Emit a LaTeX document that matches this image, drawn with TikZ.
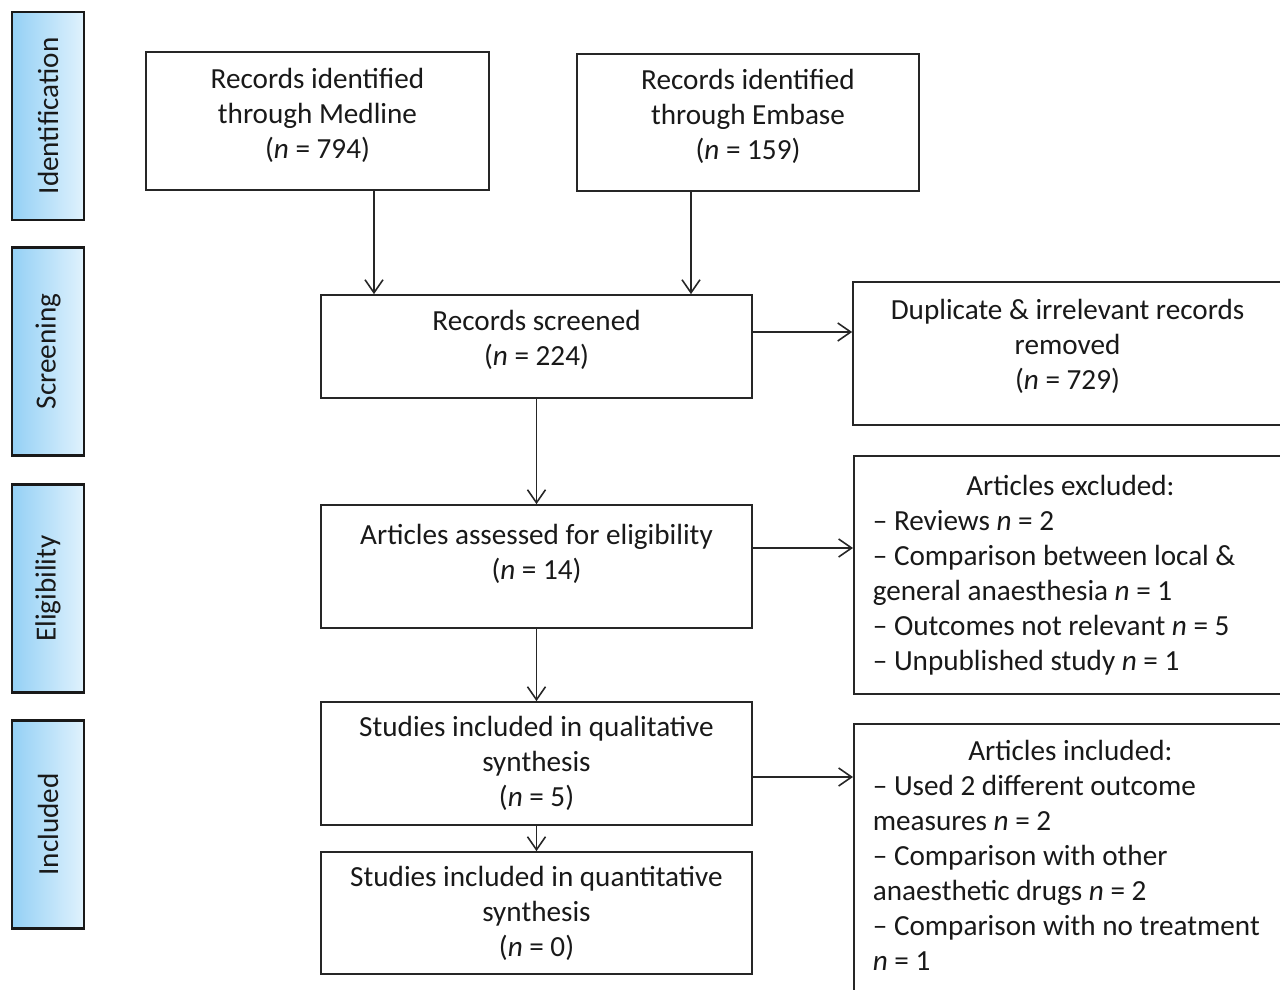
\documentclass[tikz,border=0pt]{standalone}
\usepackage{fontspec}
\setmainfont{Carlito}
\usetikzlibrary{arrows.meta}
\definecolor{stageblue}{RGB}{148,208,245}
\definecolor{stagepale}{RGB}{224,242,253}
\newcommand{\nn}{\textit{n}}
\newcommand{\boxfont}{\fontsize{16.6}{19.9}\selectfont}

\tikzset{
  flowbox/.style={draw=black!85, line width=1pt, fill=white, align=center,
    inner sep=0pt, text=black!90, font=\boxfont},
  notebox/.style={flowbox, anchor=north west, align=flush left, inner xsep=3.8mm,
    text width=79mm},
  stage/.style={draw=black!90, line width=1.2pt, left color=stageblue,
    right color=stagepale, minimum width=14.4mm, minimum height=41.6mm,
    inner sep=0pt, text=black!90, font=\boxfont},
  flow/.style={-{Straight Barb[length=2.6mm,width=3.6mm]}, line width=0.9pt,
    draw=black!85},
}

\begin{document}
\begin{tikzpicture}[x=0.2mm,y=-0.2mm]
  \clip (0,0) rectangle (1280,990);
  \fill[white] (0,0) rectangle (1280,990);

  % stages on the left
  \node[stage] (ident) at (48,116)   {\rotatebox{90}{Identification}};
  \node[stage] (screen) at (48,351.5) {\rotatebox{90}{Screening}};
  \node[stage] (elig) at (48,588.5)  {\rotatebox{90}{Eligibility}};
  \node[stage] (incl) at (48,824.5)  {\rotatebox{90}{Included}};

  % main column
  \node[flowbox, minimum width=68.6mm, minimum height=27.6mm, text depth=3.2mm] (medline) at (317.5,121)
    {Records identified\\through Medline\\(\nn{} = 794)};
  \node[flowbox, minimum width=68.4mm, minimum height=27.4mm, text depth=3.2mm] (embase) at (748,122.5)
    {Records identified\\through Embase\\(\nn{} = 159)};
  \node[flowbox, minimum width=86.2mm, minimum height=20.6mm, text depth=3.4mm] (screened) at (536.5,346.5)
    {Records screened\\(\nn{} = 224)};
  \node[flowbox, minimum width=86.2mm, minimum height=24.6mm, text depth=6mm] (assessed) at (536.5,566.5)
    {Articles assessed for eligibility\\(\nn{} = 14)};
  \node[flowbox, minimum width=86.2mm, minimum height=24.6mm] (qual) at (536.5,763.5)
    {Studies included in qualitative\\synthesis\\(\nn{} = 5)};
  \node[flowbox, minimum width=86.2mm, minimum height=24.4mm] (quant) at (536.5,913)
    {Studies included in quantitative\\synthesis\\(\nn{} = 0)};

  % side column
  \node[flowbox, minimum width=85.8mm, minimum height=28.6mm, text depth=3.5mm] (dupl) at (1067.5,353.5)
    {Duplicate \& irrelevant records\\removed\\(\nn{} = 729)};
  \node[notebox, minimum height=47.6mm] (excl) at (853,455)
    {\hbox to \hsize{\hfil Articles excluded:\hfil}\\
     -- Reviews \nn{} = 2\\
     -- Comparison between local \&\\
     general anaesthesia \nn{} = 1\\
     -- Outcomes not relevant \nn{} = 5\\
     -- Unpublished study \nn{} = 1};
  \node[notebox, minimum height=60mm] (incd) at (853,723)
    {\hbox to \hsize{\hfil Articles included:\hfil}\\
     -- Used 2 different outcome\\
     measures \nn{} = 2\\
     -- Comparison with other\\
     anaesthetic drugs \nn{} = 2\\
     -- Comparison with no treatment\\
     \nn{} = 1\\
     \rule{0pt}{7mm}};

  % connectors
  \coordinate (medx) at (374,0);
  \coordinate (embx) at (691,0);
  \coordinate (dupy) at (0,332);
  \coordinate (exy) at (0,548);
  \coordinate (incy) at (0,777);
  \draw[flow] (medline.south -| medx) -- (screened.north -| medx);
  \draw[flow] (embase.south -| embx) -- (screened.north -| embx);
  \draw[flow] (screened.south) -- (assessed.north);
  \draw[flow] (assessed.south) -- (qual.north);
  \draw[flow] (qual.south) -- (quant.north);
  \draw[flow] (screened.east |- dupy) -- (dupl.west |- dupy);
  \draw[flow] (assessed.east |- exy) -- (excl.west |- exy);
  \draw[flow] (qual.east |- incy) -- (incd.west |- incy);
\end{tikzpicture}
\end{document}
